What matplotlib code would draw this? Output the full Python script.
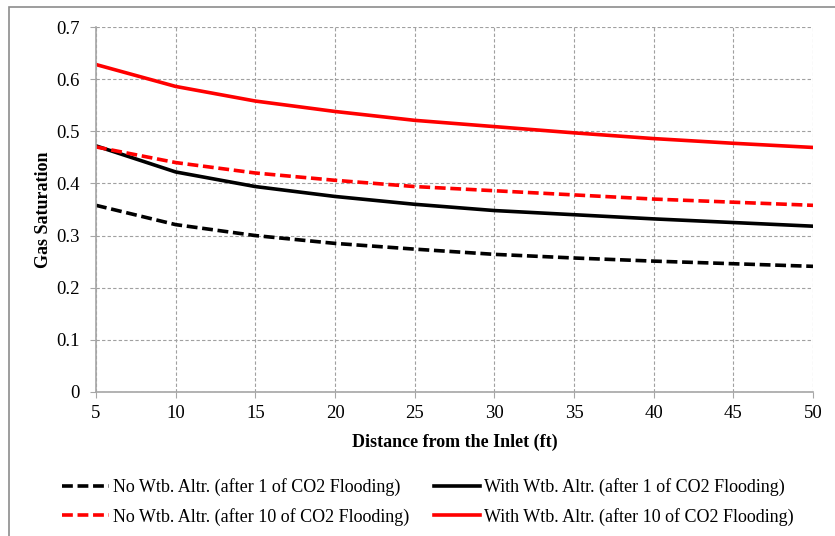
import matplotlib.pyplot as plt
from matplotlib.patches import Rectangle

plt.rcParams['font.family'] = ['Liberation Serif', 'DejaVu Serif']

distance = [5, 10, 15, 20, 25, 30, 35, 40, 45, 50]
no_wtb_1 = [0.358, 0.321, 0.300, 0.285, 0.274, 0.264, 0.257, 0.251, 0.246, 0.241]
with_wtb_1 = [0.472, 0.422, 0.394, 0.375, 0.360, 0.348, 0.340, 0.332, 0.325, 0.318]
no_wtb_10 = [0.470, 0.440, 0.420, 0.406, 0.394, 0.386, 0.378, 0.370, 0.364, 0.358]
with_wtb_10 = [0.628, 0.586, 0.558, 0.538, 0.521, 0.509, 0.497, 0.486, 0.477, 0.469]

labels = ['No Wtb. Altr. (after 1 of CO2 Flooding)',
          'With Wtb. Altr. (after 1 of CO2 Flooding)',
          'No Wtb. Altr. (after 10 of CO2 Flooding)',
          'With Wtb. Altr. (after 10 of CO2 Flooding)']

fig = plt.figure(figsize=(8.35, 5.36), dpi=100)
fig.patches.append(Rectangle((9 / 835, -0.1), 1.2, 1 - 7 / 536 + 0.1,
                             transform=fig.transFigure, fill=False,
                             edgecolor='#8c8c8c', linewidth=1.2))
ax = fig.add_axes([96 / 835, 144 / 536, 717 / 835, 365 / 536])

dash = (0, (3, 1.3))
h0, = ax.plot(distance, no_wtb_1, color='black', ls=dash, lw=2.6)
h1, = ax.plot(distance, with_wtb_1, color='black', ls='-', lw=2.6)
h2, = ax.plot(distance, no_wtb_10, color='red', ls=dash, lw=2.6)
h3, = ax.plot(distance, with_wtb_10, color='red', ls='-', lw=2.6)

ax.set_xlim(5, 50)
ax.set_ylim(0, 0.7)
ax.set_xticks(range(5, 51, 5))
ax.set_yticks([0, 0.1, 0.2, 0.3, 0.4, 0.5, 0.6, 0.7])
ax.set_yticklabels(['0', '0.1', '0.2', '0.3', '0.4', '0.5', '0.6', '0.7'])
ax.grid(True, color='#a0a0a0', ls=(0, (3, 2)), lw=0.8)
for s in ['top', 'right']:
    ax.spines[s].set_visible(False)
for s in ['left', 'bottom']:
    ax.spines[s].set_color('#a6a6a6')
    ax.spines[s].set_linewidth(1.2)
ax.tick_params(labelsize=13.5, color='#a6a6a6', length=4)
ax.tick_params(axis='x', pad=5)
ax.tick_params(axis='y', pad=7.5)
ax.set_xlabel('Distance from the Inlet (ft)', fontsize=13, fontweight='bold', labelpad=9)
ax.set_ylabel('Gas Saturation', fontsize=13, fontweight='bold', labelpad=3)

# column-wise fill: col 1 = dashed, col 2 = solid
fig.legend([h0, h2, h1, h3], [labels[0], labels[2], labels[1], labels[3]],
           loc='center', bbox_to_anchor=(428 / 835, 1 - 502 / 536), ncol=2,
           frameon=False, fontsize=13, handlelength=2.6, handletextpad=0.2,
           columnspacing=1.35, labelspacing=0.65)

fig.savefig('out.png', dpi=100)
